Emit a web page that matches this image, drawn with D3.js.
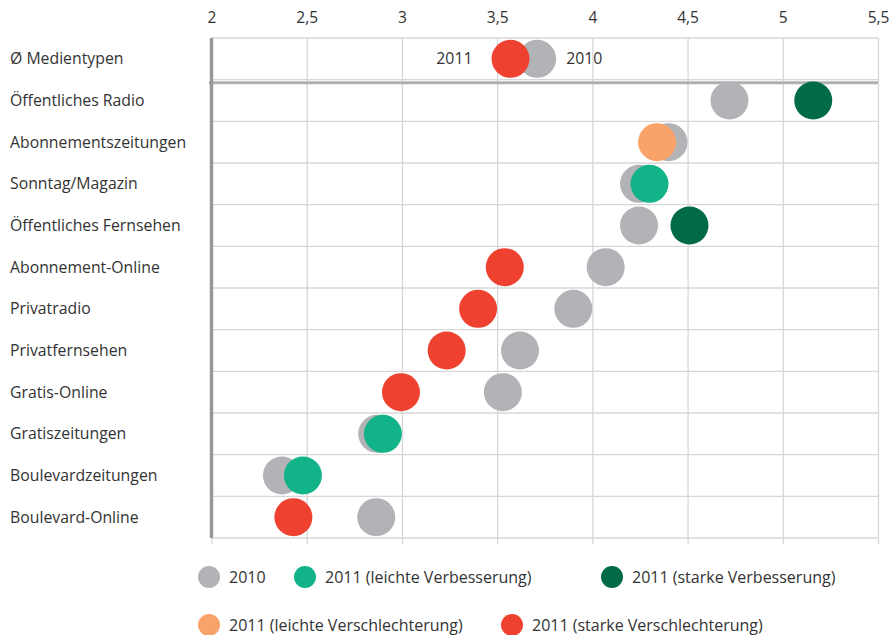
<!DOCTYPE html>
<html>
<head>
<meta charset="utf-8">
<script src="https://d3js.org/d3.v7.min.js"></script>
<style>
  body { margin: 0; background: #fff; }
  text { font-family: "Open Sans", sans-serif; fill: #333; }
</style>
</head>
<body>
<svg id="chart" width="889" height="635"></svg>
<script>
const categories = ["Ø Medientypen", "Öffentliches Radio", "Abonnementszeitungen", "Sonntag/Magazin",
    "Öffentliches Fernsehen", "Abonnement-Online", "Privatradio", "Privatfernsehen", "Gratis-Online",
    "Gratiszeitungen", "Boulevardzeitungen", "Boulevard-Online"];
const values2010 = [3.71, 4.72, 4.40, 4.245, 4.245, 4.07, 3.90, 3.62, 3.53, 2.87, 2.37, 2.865];
const values2011 = [3.57, 5.16, 4.34, 4.30, 4.51, 3.54, 3.40, 3.235, 2.995, 2.90, 2.48, 2.43];
const change2011 = ["starkMinus", "starkPlus", "leichtMinus", "leichtPlus", "starkPlus", "starkMinus",
    "starkMinus", "starkMinus", "starkMinus", "leichtPlus", "leichtPlus", "starkMinus"];
const xTicks = [2, 2.5, 3, 3.5, 4, 4.5, 5, 5.5];
const legendKeys = ["y2010", "leichtPlus", "starkPlus", "leichtMinus", "starkMinus"];
const legendLabels = ["2010", "2011 (leichte Verbesserung)", "2011 (starke Verbesserung)",
    "2011 (leichte Verschlechterung)", "2011 (starke Verschlechterung)"];

const color = d3.scaleOrdinal()
    .domain(["y2010", "leichtPlus", "starkPlus", "leichtMinus", "starkMinus"])
    .range(["#b2b3b6", "#12b388", "#006b45", "#f9a36a", "#ef412f"]);

const svg = d3.select("#chart");
const plotTop = 38, plotBottom = 538;

const x = d3.scaleLinear().domain([2, 5.5]).range([211.5, 878]);
const y = d3.scaleBand().domain(categories).range([plotTop, plotBottom]).padding(0);
const fmt = d => String(d).replace(".", ",");

// vertical grid
svg.append("g")
    .attr("transform", `translate(0, ${plotTop})`)
    .call(d3.axisBottom(x).tickValues(xTicks).tickSize(plotBottom - plotTop + 6).tickFormat(""))
    .call(g => g.select(".domain").remove())
    .call(g => g.selectAll("line").attr("stroke", "#d7d7d7").attr("stroke-width", 1.3));

// top tick labels
svg.append("g")
    .attr("transform", "translate(0, 18)")
    .call(d3.axisTop(x).tickValues(xTicks).tickSize(0).tickPadding(0).tickFormat(fmt))
    .call(g => g.select(".domain").remove())
    .call(g => g.selectAll("text")
        .attr("dy", "0.35em")
        .style("font-size", "15.5px")
        .style("font-family", "'Open Sans', sans-serif")
        .attr("fill", "#333"));

// horizontal row lines
const bounds = categories.map(c => y(c)).concat([plotBottom]);
svg.append("g").selectAll("line")
    .data(bounds)
    .enter().append("line")
    .attr("x1", x(2)).attr("x2", x(5.5))
    .attr("y1", d => d).attr("y2", d => d)
    .attr("stroke", "#d7d7d7").attr("stroke-width", 1.3);

// separator below average row
svg.append("line")
    .attr("x1", x(2) - 2.5).attr("x2", x(5.5))
    .attr("y1", y(categories[1]) + 3).attr("y2", y(categories[1]) + 3)
    .attr("stroke", "#b0b0b3").attr("stroke-width", 3);

// left bar
svg.append("line")
    .attr("x1", x(2)).attr("x2", x(2))
    .attr("y1", plotTop).attr("y2", plotBottom)
    .attr("stroke", "#98989c").attr("stroke-width", 3.5);

// category labels
svg.append("g").selectAll("text")
    .data(categories)
    .enter().append("text")
    .attr("x", 10)
    .attr("y", d => y(d) + y.bandwidth() / 2)
    .attr("dy", "0.35em")
    .style("font-size", "15.8px")
    .text(d => d);

// dots
const rows = categories.map((c, i) => ({ cat: c, v10: values2010[i], v11: values2011[i], ch: change2011[i] }));
const r = 19;
svg.append("g").selectAll("circle")
    .data(rows)
    .enter().append("circle")
    .attr("cx", d => x(d.v10))
    .attr("cy", d => y(d.cat) + y.bandwidth() / 2)
    .attr("r", r)
    .attr("fill", color("y2010"));
svg.append("g").selectAll("circle")
    .data(rows)
    .enter().append("circle")
    .attr("cx", d => x(d.v11))
    .attr("cy", d => y(d.cat) + y.bandwidth() / 2)
    .attr("r", r)
    .attr("fill", d => color(d.ch));

// year labels in average row
const avgY = y(categories[0]) + y.bandwidth() / 2;
svg.append("text")
    .attr("x", x(values2011[0]) - 38)
    .attr("y", avgY)
    .attr("dy", "0.35em")
    .attr("text-anchor", "end")
    .style("font-size", "15.8px")
    .text("2011");
svg.append("text")
    .attr("x", x(values2010[0]) + 29)
    .attr("y", avgY)
    .attr("dy", "0.35em")
    .style("font-size", "15.8px")
    .text("2010");

// legend
const legendPos = [[209, 577], [305, 577], [612, 577], [209, 625], [512, 625]];
const legend = svg.append("g").selectAll("g")
    .data(legendKeys)
    .enter().append("g")
    .attr("transform", (d, i) => `translate(${legendPos[i][0]}, ${legendPos[i][1]})`);
legend.append("circle")
    .attr("r", 11)
    .attr("fill", d => color(d));
legend.append("text")
    .attr("x", 20)
    .attr("dy", "0.35em")
    .style("font-size", "16px")
    .text((d, i) => legendLabels[i]);
</script>
</body>
</html>
